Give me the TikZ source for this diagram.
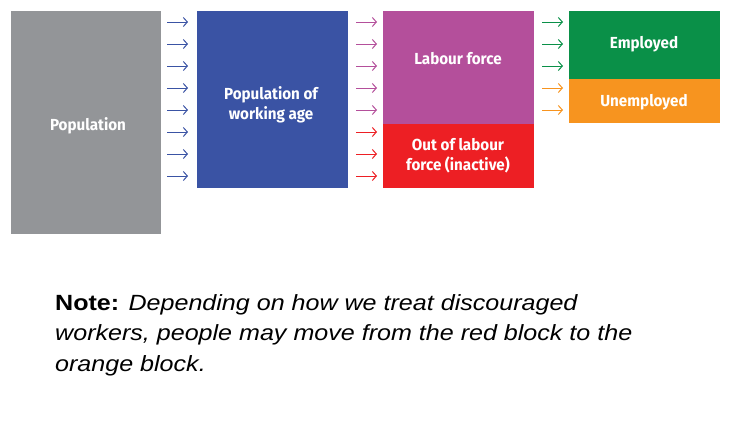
\documentclass[tikz,border=0pt]{standalone}
\usepackage{fontspec}
\setmainfont{Liberation Sans}[FakeStretch=1.14]
\newfontfamily\boxfont{Fira Sans}[FakeStretch=0.95]
\usetikzlibrary{arrows.meta}
\definecolor{cgray}{HTML}{939598}
\definecolor{cblue}{HTML}{3A53A4}
\definecolor{cpurple}{HTML}{B44F9B}
\definecolor{cred}{HTML}{ED1F24}
\definecolor{cgreen}{HTML}{0A9048}
\definecolor{corange}{HTML}{F7941F}
\tikzset{
  x=1pt, y=-1pt,
  block/.style={draw=none, inner sep=0pt, outer sep=0pt},
  blocktext/.style={text=white, font=\boxfont\bfseries\fontsize{16}{20}\selectfont, align=center, inner sep=0pt},
  flow/.style={line width=1pt, -{Straight Barb[length=4pt,width=9pt]}},
}
\begin{document}
\begin{tikzpicture}
\useasboundingbox (0,0) rectangle (733,445);
% blocks
\path[fill=cgray] (11,11) rectangle (161,234);
\node[block, minimum width=150pt, minimum height=223pt] (pop) at (86,122.5) {};
\path[fill=cblue] (197,11) rectangle (348,188);
\node[block, minimum width=151pt, minimum height=177pt] (wa) at (272.5,99.5) {};
\path[fill=cpurple] (383,11) rectangle (534,124);
\node[block, minimum width=151pt, minimum height=113pt] (lf) at (458.5,67.5) {};
\path[fill=cred] (383,124) rectangle (534,188);
\node[block, minimum width=151pt, minimum height=64pt] (ina) at (458.5,156) {};
\path[fill=cgreen] (569,11) rectangle (720,79);
\node[block, minimum width=151pt, minimum height=68pt] (emp) at (644.5,45) {};
\path[fill=corange] (569,79) rectangle (720,123);
\node[block, minimum width=151pt, minimum height=44pt] (unemp) at (644.5,101) {};
% texts
\node[blocktext] (tpop) at (88,126) {Population};
\node[blocktext] (twa) at (271,105) {Population of\\working age};
\node[blocktext] (tlf) at (458,58.5) {Labour force};
\node[blocktext] (tina) at (458,156) {Out of labour\\force (inactive)};
\node[blocktext] (temp) at (644,44.5) {Employed};
\node[blocktext] (tunemp) at (644,102.5) {Unemployed};
% arrows
\foreach \i/\yy in {1/22,2/44,3/66,4/88,5/110,6/132,7/154,8/176}{
  \coordinate (a\i s) at (167,\yy);
  \coordinate (a\i e) at (188,\yy);
  \draw[flow, cblue] (a\i s) -- (a\i e);
  \coordinate (b\i s) at (356,\yy);
  \coordinate (b\i e) at (377,\yy);
}
\foreach \i in {1,...,5}{\draw[flow, cpurple] (b\i s) -- (b\i e);}
\foreach \i in {6,7,8}{\draw[flow, cred] (b\i s) -- (b\i e);}
\foreach \i/\yy in {1/22,2/44,3/66,4/88,5/110}{
  \coordinate (c\i s) at (542,\yy);
  \coordinate (c\i e) at (563,\yy);
}
\foreach \i in {1,2,3}{\draw[flow, cgreen] (c\i s) -- (c\i e);}
\foreach \i in {4,5}{\draw[flow, corange] (c\i s) -- (c\i e);}
% note
\node[anchor=north west, inner sep=0pt, align=left, font=\fontsize{22}{30.5}\selectfont] (note) at (55,294)
  {\textbf{Note:} \textit{Depending on how we treat discouraged}\\
   \textit{workers, people may move from the red block to the}\\
   \textit{orange block.}};
\end{tikzpicture}
\end{document}
